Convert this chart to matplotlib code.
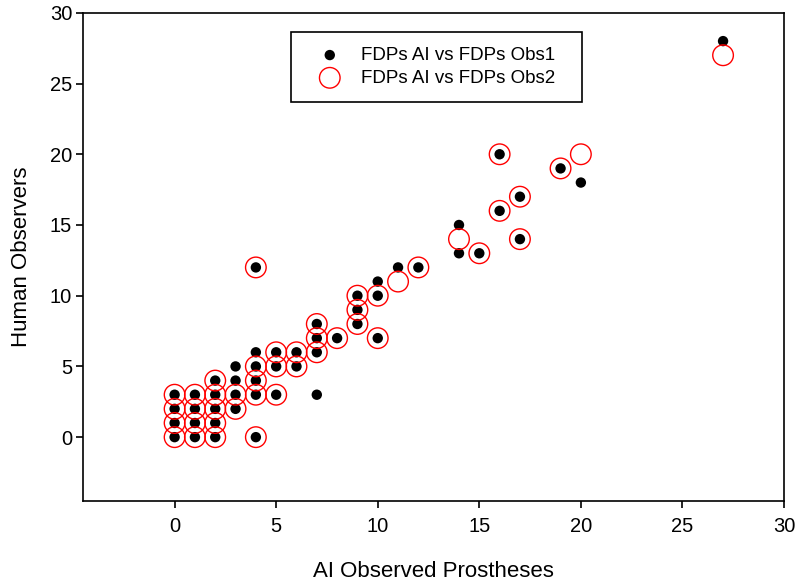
import numpy as np
import matplotlib
matplotlib.use("Agg")
import matplotlib.pyplot as plt

plt.rcParams['font.family'] = ['Liberation Sans', 'DejaVu Sans']

# AI observed prostheses (x) vs human observers (y)
obs1_x = [0, 0, 0, 0, 1, 1, 1, 1, 2, 2, 2, 2, 2, 3, 3, 3, 3,
          4, 4, 4, 4, 4, 4, 5, 5, 5, 6, 6, 7, 7, 7, 7, 8,
          9, 9, 9, 10, 10, 10, 11, 12, 14, 14, 15, 16, 16, 17, 17,
          19, 20, 27]
obs1_y = [0, 1, 2, 3, 0, 1, 2, 3, 0, 1, 2, 3, 4, 2, 3, 4, 5,
          0, 3, 4, 5, 6, 12, 3, 5, 6, 5, 6, 3, 6, 7, 8, 7,
          8, 9, 10, 7, 10, 11, 12, 12, 13, 15, 13, 16, 20, 14, 17,
          19, 18, 28]

obs2_x = [0, 0, 0, 0, 1, 1, 1, 1, 2, 2, 2, 2, 2, 3, 3,
          4, 4, 4, 4, 4, 5, 5, 5, 6, 6, 7, 7, 7, 8,
          9, 9, 9, 10, 10, 11, 12, 14, 15, 16, 16, 17, 17,
          19, 20, 27]
obs2_y = [0, 1, 2, 3, 0, 1, 2, 3, 0, 1, 2, 3, 4, 2, 3,
          0, 3, 4, 5, 12, 3, 5, 6, 5, 6, 6, 7, 8, 7,
          8, 9, 10, 7, 10, 11, 12, 14, 13, 16, 20, 14, 17,
          19, 20, 27]

ticks = [0, 5, 10, 15, 20, 25, 30]

fig = plt.figure(figsize=(8, 5.83), dpi=100)
ax = fig.add_axes([0.104, 0.141, 0.876, 0.837])

ax.scatter(obs1_x, obs1_y, s=56, color='black', edgecolors='none',
           label='FDPs AI vs FDPs Obs1', zorder=2)
ax.scatter(obs2_x, obs2_y, s=220, facecolors='none', edgecolors='#ff0000',
           linewidths=1.0, label='FDPs AI vs FDPs Obs2', zorder=3)

ax.set_xlim(-4.5, 30)
ax.set_ylim(-4.5, 30)
ax.set_xticks(ticks)
ax.set_yticks(ticks)
ax.tick_params(direction='out', length=5, width=1.2, top=False, right=False,
               labelsize=14.5, colors='black')
ax.tick_params(axis='x', pad=7)
ax.tick_params(axis='y', pad=3)
for sp in ax.spines.values():
    sp.set_linewidth(1.2)

ax.set_xlabel('AI Observed Prostheses', fontsize=16, labelpad=18)
ax.set_ylabel('Human Observers', fontsize=16, labelpad=13)

leg = ax.legend(loc='upper left', bbox_to_anchor=(0.297, 0.818, 0.415, 0.143),
                mode='expand', borderaxespad=0, fontsize=13.5, frameon=True,
                fancybox=False, edgecolor='black', framealpha=1,
                borderpad=0.8, labelspacing=0.3, handlelength=2.5,
                handletextpad=0.4, scatterpoints=1)
leg.get_frame().set_linewidth(1.2)

fig.savefig('out.png', dpi=100)
